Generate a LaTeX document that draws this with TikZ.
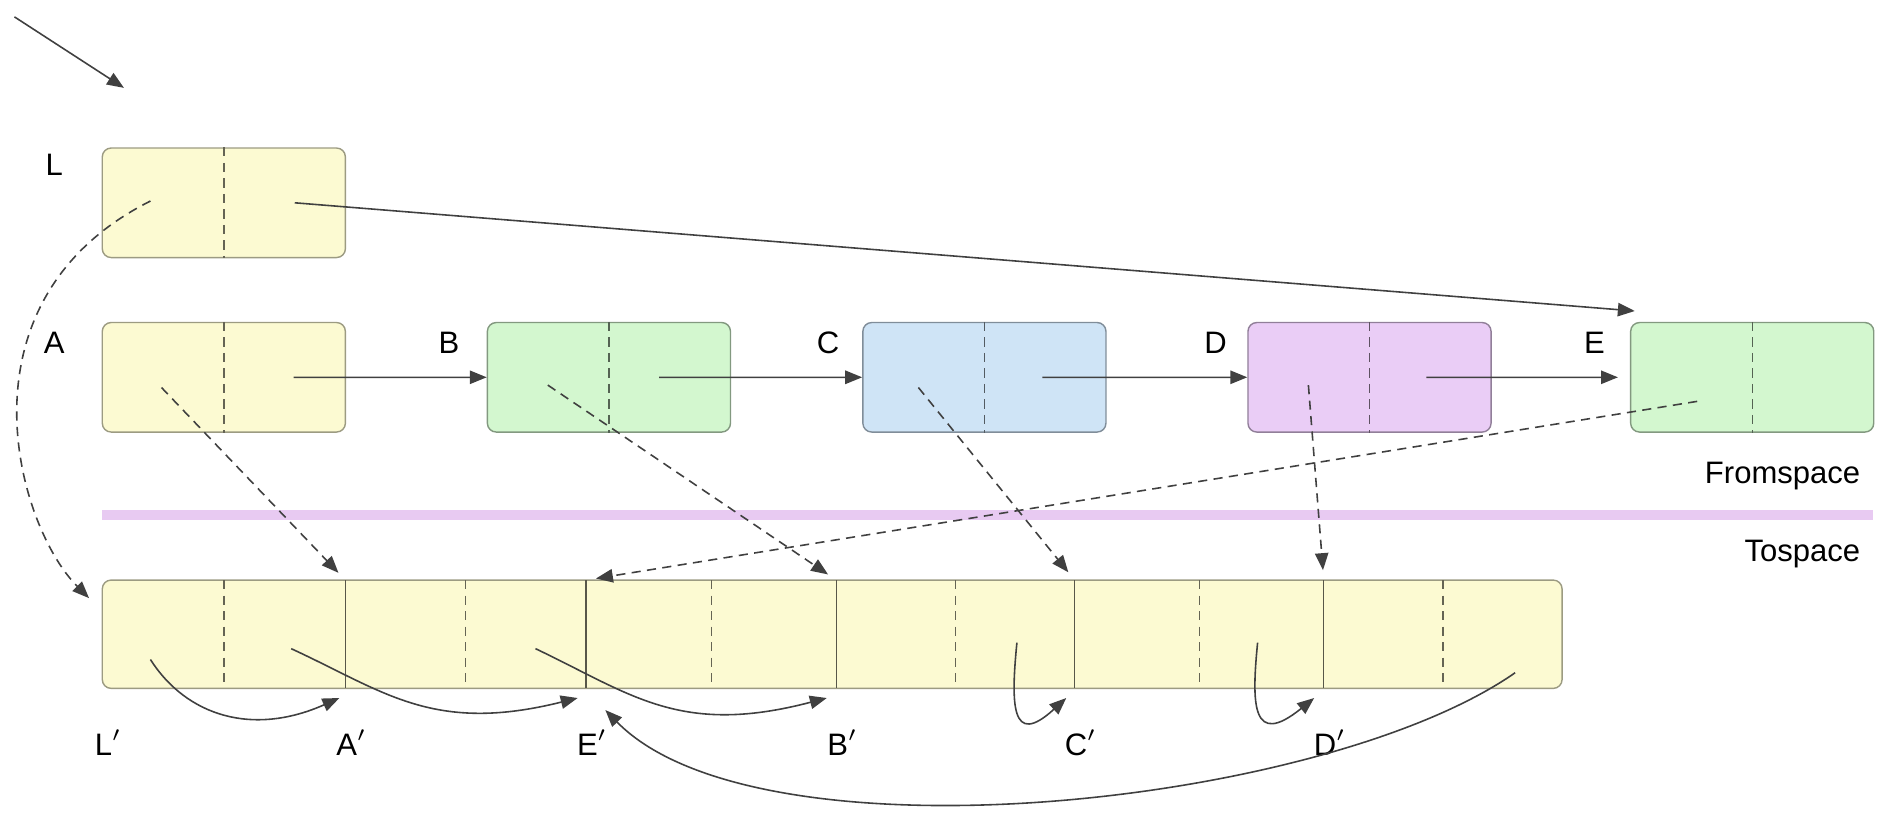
\documentclass[tikz,border=0pt]{standalone}
\usepackage{fontspec}
\setmainfont{Liberation Sans}
\usetikzlibrary{arrows.meta,calc}

\definecolor{yfill}{HTML}{FCFAD2}
\definecolor{gfill}{HTML}{D3F7CF}
\definecolor{bfill}{HTML}{CFE4F6}
\definecolor{pfill}{HTML}{EACDF6}
\definecolor{sepcol}{HTML}{E8CAF2}
\definecolor{ink}{HTML}{404040}

\begin{document}
\begin{tikzpicture}[x=1.2cm, y=1.2cm,
  >={Triangle[length=4.8pt,width=3.8pt]},
  font=\fontsize{8.8}{10.5}\selectfont,
  cell/.style={rounded corners=2.5pt, minimum width=2.424cm, minimum height=1.092cm, inner sep=0pt},
  ptr/.style={line width=0.45pt, ink, ->},
  fwd/.style={line width=0.45pt, ink, ->, dash pattern=on 2.6pt off 1.8pt},
  divider/.style={thin, dash pattern=on 2.6pt off 1.8pt}]
    \useasboundingbox (0,0) rectangle (15.68,-6.75);

    % Root pointer
    \coordinate (root) at (0.12,-0.14);
    \coordinate (roothead) at (1.03,-0.73);
    \draw [ptr] (root) -- (roothead);

    % Fromspace objects
    \foreach \n/\x/\y/\c/\fr/\fl/\dl in {L/1.86/-1.685/yfill/0.58/0.6/0.015,
                                         A/1.86/-3.135/yfill/0.57/0.51/-0.085,
                                         B/5.06/-3.135/gfill/0.41/0.5/-0.065,
                                         C/8.18/-3.135/bfill/0.475/0.54/-0.085,
                                         D/11.38/-3.135/pfill/0.465/0.5/-0.065,
                                         E/14.56/-3.135/gfill/0.5/0.45/-0.2} {
      \node [cell, fill=\c, draw=\c!62!black] (\n) at (\x, \y) {};
      \draw [divider, draw=\c!40!black] (\n.north) -- (\n.south);
      \coordinate (\n-r) at ($(\n.center)!\fr!(\n.east)$);
      \coordinate (\n-l) at ($(\n.center)!\fl!(\n.west)+(0,\dl)$);
    }
    \foreach \n/\x/\y in {L/0.45/-1.37, A/0.45/-2.85, B/3.73/-2.85,
                          C/6.88/-2.85, D/10.10/-2.85, E/13.25/-2.85} {
      \node (l\n) at (\x, \y) {\n};
    }

    % Separator
    \draw [sepcol, line width=3pt] (0.85,-4.28) -- (15.56,-4.28);
    \node [anchor=east] (from) at (15.56,-3.955) {Fromspace};
    \node [anchor=east] (to) at (15.56,-4.60) {Tospace};

    % Tospace
    \draw [fill=yfill, draw=yfill!62!black, rounded corners=2.5pt] (0.85,-4.82) rectangle (12.98,-5.72);
    \foreach \n/\a/\b in {L/0.85/2.87, A/2.87/4.87, E/4.87/6.95,
                          B/6.95/8.93, C/8.93/11.00, D/11.00/12.98} {
      \coordinate (t\n) at (\a,-4.82);
      \coordinate (b\n) at (\a,-5.72);
      \draw [divider, draw=yfill!40!black] ({(\a+\b)/2},-4.82) -- ({(\a+\b)/2},-5.72);
      \node (p\n) at ({\a+0.05},-6.17) {\n$'$};
    }
    \foreach \n in {A, E, B, C, D} {
      \draw [thin, yfill!35!black] (t\n) -- (b\n);
    }

    % Fromspace pointers
    \foreach \i/\j in {A/B, B/C, C/D} {
      \draw [ptr] (\i-r) -- (\j.west);
    }
    \draw [ptr, shorten >=1.2mm] (D-r) -- (E.west);
    \draw [ptr] (L-r) -- ([shift={(0.04,0.09)}]E.north west);

    % Forwarding pointers
    \draw [fwd] (L-l) .. controls (-0.4,-2.5) and (0.14,-4.37) .. ([shift={(-0.11,-0.15)}]tL);
    \foreach \n in {A, B, C, D, E} {
      \draw [fwd, shorten >=1mm] (\n-l) -- (t\n);
    }

    % Tospace pointers
    \draw [ptr] ([shift={(0.40,-0.66)}]tL) .. controls (1.55,-5.95) and (2.1,-6.12) .. ([shift={(-0.05,-0.08)}]bA);
    \draw [ptr] ([shift={(1.57,-0.57)}]tL) .. controls (3.2,-5.75) and (3.6,-6.1) .. ([shift={(-0.07,-0.08)}]bE);
    \draw [ptr] ([shift={(1.58,-0.57)}]tA) .. controls (5.25,-5.77) and (5.65,-6.12) .. ([shift={(-0.08,-0.08)}]bB);
    \draw [ptr] ([shift={(1.50,-0.52)}]tB) .. controls (8.40,-5.85) and (8.40,-6.22) .. ([shift={(-0.07,-0.08)}]bC);
    \draw [ptr] ([shift={(1.52,-0.52)}]tC) .. controls (10.40,-5.85) and (10.40,-6.22) .. ([shift={(-0.08,-0.08)}]bD);
    \draw [ptr] ([shift={(1.59,-0.77)}]tD) .. controls (11.0,-6.7) and (6.3,-7.2) .. ([shift={(0.16,-0.18)}]bE);
\end{tikzpicture}
\end{document}
